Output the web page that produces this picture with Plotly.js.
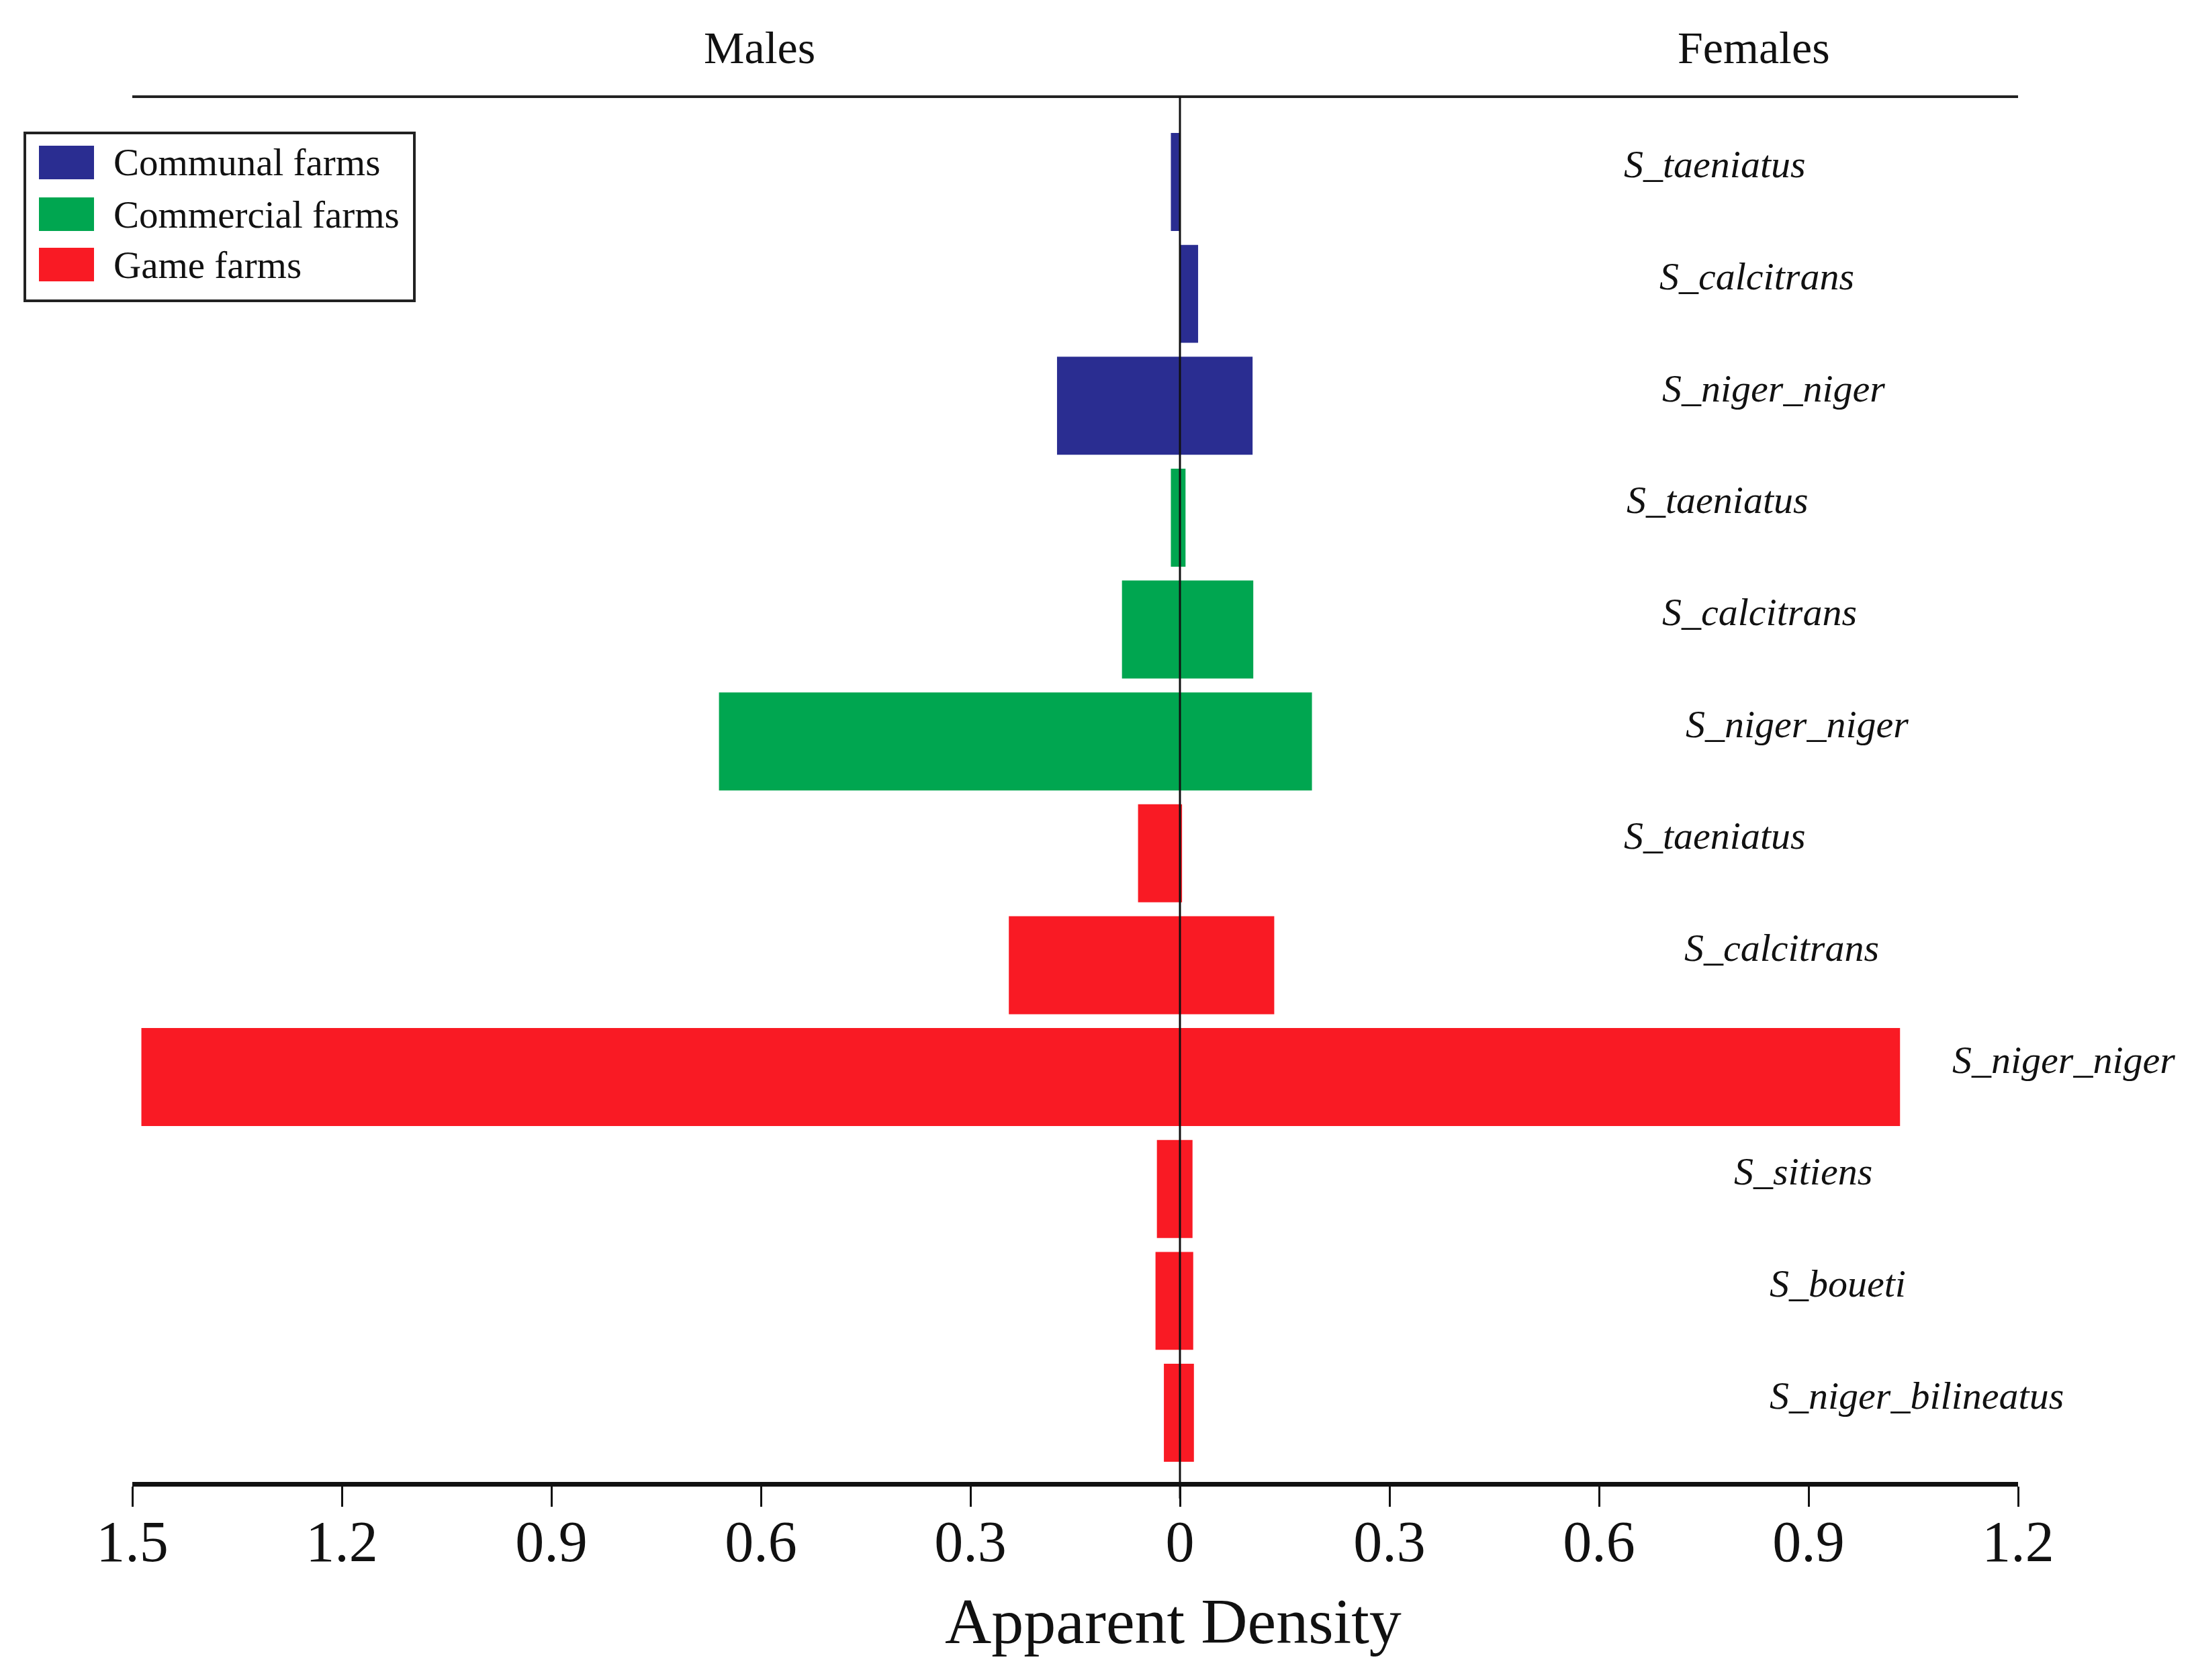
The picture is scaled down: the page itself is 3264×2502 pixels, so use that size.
<!DOCTYPE html>
<html>
<head>
<meta charset="utf-8">
<script src="https://cdn.plot.ly/plotly-3.0.1.min.js"></script>
<style>
  body { margin: 0; background: #fff; }
</style>
</head>
<body>
<div id="chart" style="width:3264px;height:2502px;"></div>
<script>
// values (apparent density)
var communalSpecies = ['S_taeniatus', 'S_calcitrans', 'S_niger_niger'];
var communalMales = [0.013, 0.0, 0.176];
var communalFemales = [0.001, 0.026, 0.104];

var commercialSpecies = ['S_taeniatus', 'S_calcitrans', 'S_niger_niger'];
var commercialMales = [0.013, 0.083, 0.66];
var commercialFemales = [0.008, 0.105, 0.189];

var gameSpecies = ['S_taeniatus', 'S_calcitrans', 'S_niger_niger', 'S_sitiens', 'S_boueti', 'S_niger_bilineatus'];
var gameMales = [0.06, 0.245, 1.487, 0.033, 0.035, 0.023];
var gameFemales = [0.003, 0.135, 1.031, 0.018, 0.019, 0.02];

var tickVals = [-1.5, -1.2, -0.9, -0.6, -0.3, 0, 0.3, 0.6, 0.9, 1.2];
var tickText = ['1.5', '1.2', '0.9', '0.6', '0.3', '0', '0.3', '0.6', '0.9', '1.2'];

var groups = [
  {name: 'Communal farms', key: 'Communal', species: communalSpecies, males: communalMales, females: communalFemales, color: '#2a2d91'},
  {name: 'Commercial farms', key: 'Commercial', species: commercialSpecies, males: commercialMales, females: commercialFemales, color: '#00a650'},
  {name: 'Game farms', key: 'Game', species: gameSpecies, males: gameMales, females: gameFemales, color: '#f91a24'}
];

// where each species name sits on the right (x in data units, top to bottom)
var labelX = [0.766, 0.826, 0.850, 0.770, 0.830, 0.884, 0.766, 0.862, 1.265, 0.892, 0.942, 1.055];

var FONT = 'Liberation Serif, Times New Roman, serif';

// plot area in page pixels, used for the hand drawn legend
var L = 197, R = 3005, T = 144, B = 2207;
function px(x) { return (x - L) / (R - L); }
function py(y) { return (B - y) / (B - T); }
function dx(v) { return (v + 1.5) / 2.7; }

var rowIds = [];
var rowNames = [];
var traces = [];
groups.forEach(function (g) {
  var ids = g.species.map(function (s) { return g.key + '|' + s; });
  ids.forEach(function (id, i) { rowIds.push(id); rowNames.push(g.species[i]); });
  traces.push({
    type: 'bar', orientation: 'h', name: g.name, showlegend: false,
    y: ids, x: g.males.map(function (v) { return -v; }),
    marker: {color: g.color, line: {width: 0}}
  });
  traces.push({
    type: 'bar', orientation: 'h', name: g.name, showlegend: false,
    y: ids, x: g.females,
    marker: {color: g.color, line: {width: 0}}
  });
});

var annotations = [];
rowIds.forEach(function (id, i) {
  annotations.push({
    xref: 'paper', yref: 'y', x: dx(labelX[i]), y: id, yshift: 26,
    text: rowNames[i], showarrow: false, xanchor: 'center', yanchor: 'middle',
    font: {family: FONT, size: 58, style: 'italic', color: '#111'}
  });
});

annotations.push({xref: 'x', yref: 'paper', x: -0.602, y: py(71), text: 'Males', showarrow: false,
  xanchor: 'center', yanchor: 'middle', font: {family: FONT, size: 68, color: '#111'}});
annotations.push({xref: 'x', yref: 'paper', x: 0.822, y: py(71), text: 'Females', showarrow: false,
  xanchor: 'center', yanchor: 'middle', font: {family: FONT, size: 68, color: '#111'}});
// axis title sits under the zero line rather than the middle of the axis
annotations.push({xref: 'x', yref: 'paper', x: -0.01, y: py(2414), text: 'Apparent Density', showarrow: false,
  xanchor: 'center', yanchor: 'middle', font: {family: FONT, size: 96, color: '#111'}});

var shapes = [
  // top rule
  {type: 'line', xref: 'paper', yref: 'paper', x0: 0, x1: 1, y0: 1, y1: 1, line: {color: '#222', width: 4}},
  // zero line over the bars
  {type: 'line', xref: 'x', yref: 'paper', x0: 0, x1: 0, y0: -0.012, y1: 1, layer: 'above', line: {color: '#111', width: 3}},
  // legend frame
  {type: 'rect', xref: 'paper', yref: 'paper', x0: px(37), x1: px(617), y0: py(198), y1: py(448),
    line: {color: '#222', width: 4}, fillcolor: 'rgba(0,0,0,0)'}
];

var legendRows = [242, 319, 394];
groups.forEach(function (g, i) {
  var cy = legendRows[i];
  shapes.push({type: 'rect', xref: 'paper', yref: 'paper', x0: px(58), x1: px(140), y0: py(cy - 25), y1: py(cy + 25),
    line: {width: 0}, fillcolor: g.color});
  annotations.push({xref: 'paper', yref: 'paper', x: px(167), y: py(cy), text: g.name, showarrow: false,
    xanchor: 'left', yanchor: 'middle', font: {family: FONT, size: 57, color: '#111'}});
});

var layout = {
  width: 3264, height: 2502,
  margin: {l: L, r: 3264 - R, t: T, b: 2502 - B, pad: 0},
  paper_bgcolor: '#fff', plot_bgcolor: '#fff',
  barmode: 'relative', bargap: 0.124,
  showlegend: false,
  font: {family: FONT, color: '#111'},
  xaxis: {
    range: [-1.5, 1.2], tickmode: 'array', tickvals: tickVals, ticktext: tickText,
    ticks: 'outside', ticklen: 30, tickwidth: 3, tickcolor: '#111',
    ticklabelstandoff: -22,
    showline: true, linewidth: 7, linecolor: '#111',
    showgrid: false, zeroline: false,
    tickfont: {family: FONT, size: 86, color: '#111'}
  },
  xaxis2: {
    overlaying: 'x', anchor: 'y', side: 'bottom', range: [-1.5, 1.2],
    tickmode: 'array', tickvals: tickVals, ticks: 'inside', ticklen: 19, tickwidth: 3, tickcolor: '#111',
    showticklabels: false, showline: false, showgrid: false, zeroline: false
  },
  yaxis: {
    type: 'category', categoryorder: 'array', categoryarray: rowIds,
    range: [11.618, -0.762], showticklabels: false, ticks: '',
    showline: false, showgrid: false, zeroline: false
  },
  shapes: shapes,
  annotations: annotations
};

Plotly.newPlot('chart', traces, layout, {displayModeBar: false, staticPlot: true});
</script>
</body>
</html>
